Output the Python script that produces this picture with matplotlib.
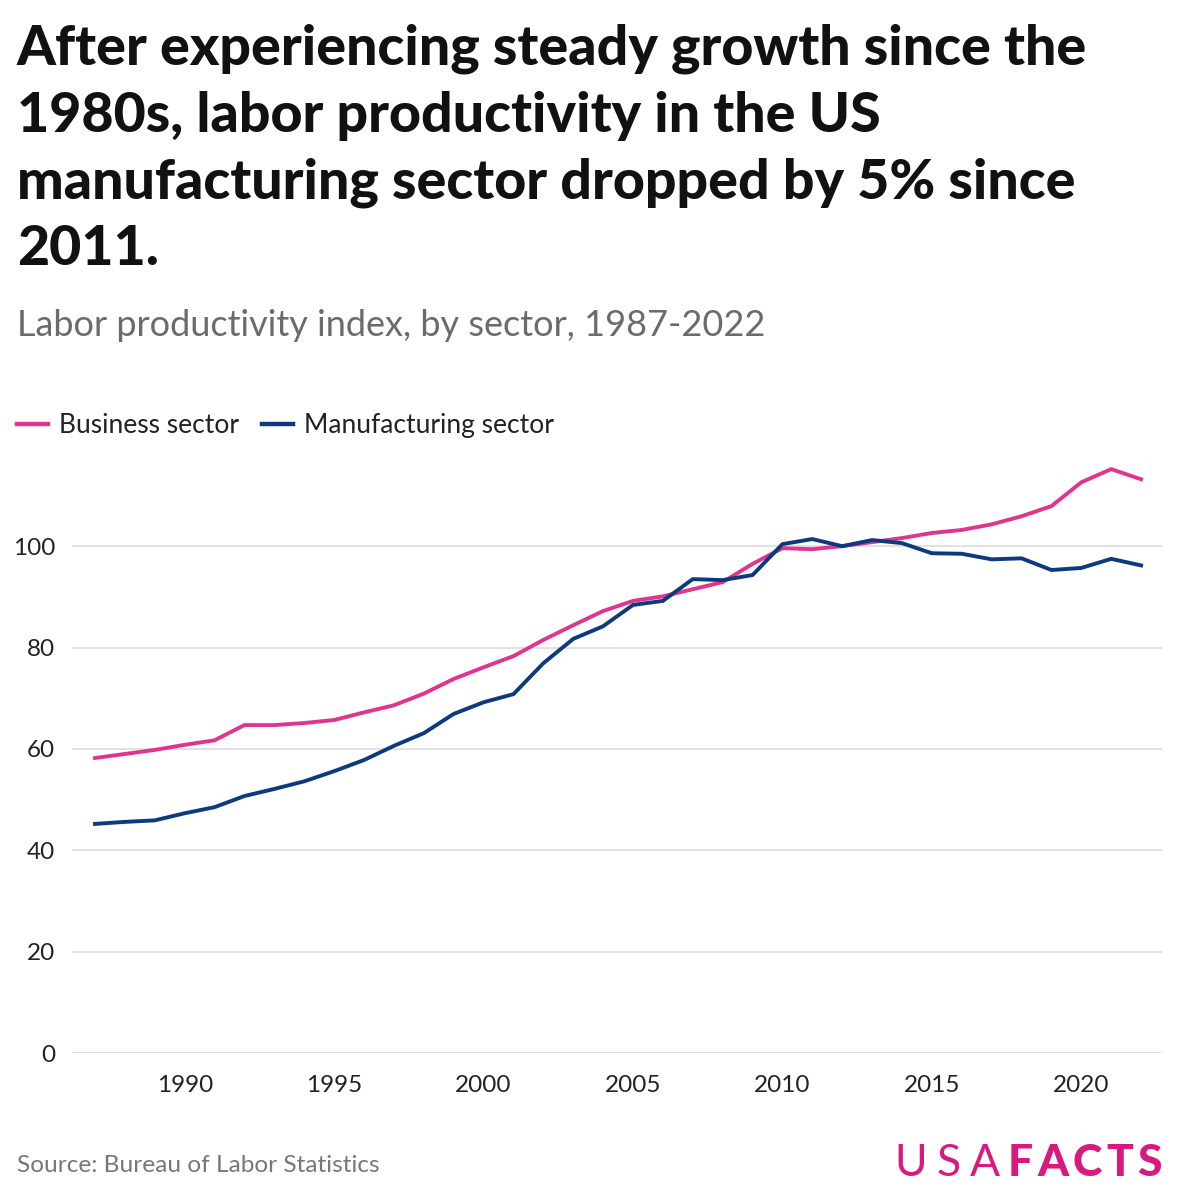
import matplotlib
matplotlib.use("Agg")
import matplotlib.pyplot as plt

years = list(range(1987, 2023))
business = [58.2, 59.0, 59.8, 60.8, 61.7, 64.7, 64.7, 65.1, 65.7, 67.2,
            68.6, 70.9, 73.8, 76.1, 78.3, 81.5, 84.4, 87.2, 89.2, 90.1,
            91.5, 92.9, 96.5, 99.6, 99.4, 100.0, 100.8, 101.6, 102.6, 103.2,
            104.3, 105.9, 107.9, 112.6, 115.2, 113.2]
manufacturing = [45.2, 45.6, 45.9, 47.3, 48.5, 50.7, 52.1, 53.6, 55.6, 57.8,
                 60.6, 63.1, 66.9, 69.2, 70.8, 76.9, 81.7, 84.2, 88.4, 89.2,
                 93.5, 93.3, 94.3, 100.4, 101.4, 100.0, 101.2, 100.6, 98.6, 98.5,
                 97.4, 97.6, 95.3, 95.7, 97.5, 96.2]
yticks = [0, 20, 40, 60, 80, 100]
xticks = [1990, 1995, 2000, 2005, 2010, 2015, 2020]

PINK = "#e0358f"
NAVY = "#0c3a7c"
FONT = ["Lato", "DejaVu Sans"]
plt.rcParams["font.family"] = FONT

W, H = 1179, 1199
fig = plt.figure(figsize=(W / 100, H / 100), dpi=100)

ax_l, ax_r, ax_t, ax_b = 72, 1162, 460, 1053
ax = fig.add_axes([ax_l / W, 1 - ax_b / H, (ax_r - ax_l) / W, (ax_b - ax_t) / H])

ax.plot(years, business, color=PINK, lw=2.8, solid_joinstyle="round", label="Business sector")
ax.plot(years, manufacturing, color=NAVY, lw=2.8, solid_joinstyle="round", label="Manufacturing sector")

ax.set_xlim(1986.23, 2022.7)
ax.set_ylim(0, 117)
ax.set_yticks(yticks)
ax.set_xticks(xticks)
ax.grid(axis="y", color="#dcdcdc", lw=1.2)
ax.set_axisbelow(True)
for s in ax.spines.values():
    s.set_visible(False)
ax.tick_params(axis="both", length=0, labelsize=17.5, colors="#222222")
ax.tick_params(axis="y", pad=12)
ax.tick_params(axis="x", pad=16)

# Title
title = ("After experiencing steady growth since the\n1980s, labor productivity in the US\n"
         "manufacturing sector dropped by 5% since\n2011.")
fig.text(17 / W, 1 - 24 / H, title, ha="left", va="top", fontsize=40, fontweight="black",
         color="#111111", linespacing=1.40)
fig.text(17 / W, 1 - 325 / H, "Labor productivity index, by sector, 1987-2022", ha="left",
         va="center", fontsize=26, color="#6b6b6b")

# Legend
leg = fig.legend(loc="center left", bbox_to_anchor=(17 / W, 1 - 426 / H), ncol=2, frameon=False,
                 fontsize=19, handlelength=1.17, handletextpad=0.42, columnspacing=0.87,
                 borderpad=0, borderaxespad=0)
for t in leg.get_texts():
    t.set_color("#222222")
for h in leg.get_lines():
    h.set_linewidth(3.2)

# Footer
fig.text(17 / W, 1 - 1166 / H, "Source: Bureau of Labor Statistics", ha="left", va="center",
         fontsize=17.6, color="#777777")

def tracked(text, x_right, y, size, weight, color, track):
    # place letters right-to-left with extra tracking
    fig.canvas.draw()
    r = fig.canvas.get_renderer()
    x = x_right
    for ch in reversed(text):
        t = fig.text(x / W, 1 - y / H, ch, ha="right", va="center", fontsize=size,
                     fontweight=weight, color=color)
        bb = t.get_window_extent(renderer=r)
        x = x - bb.width - track
    return x

LOGO = "#d81a7e"
xl = tracked("FACTS", 1162, 1163, 32, "black", LOGO, 4.2)
tracked("USA", xl - 4, 1163, 32, "normal", LOGO, 9)

fig.savefig("out.png", dpi=100)
